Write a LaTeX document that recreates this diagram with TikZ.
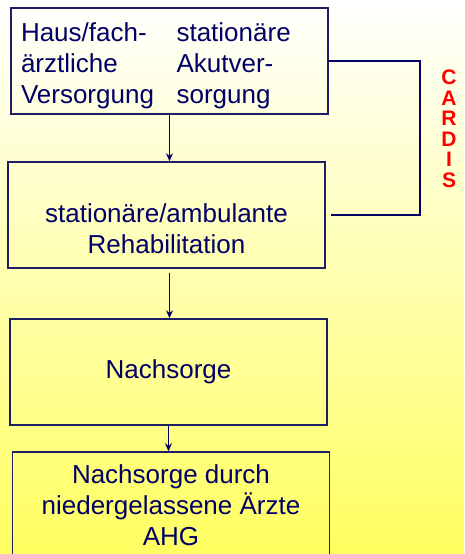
\documentclass[tikz,border=0pt]{standalone}
\usepackage{fontspec}
\setmainfont{Liberation Sans}
\usetikzlibrary{arrows.meta}
\definecolor{navy}{RGB}{0,0,102}
\definecolor{rim}{RGB}{30,30,100}
\definecolor{cardisred}{RGB}{255,0,0}
\definecolor{paleyellow}{RGB}{255,255,96}

\begin{document}
\begin{tikzpicture}[x=1pt,y=-1pt,
  box/.style={draw=rim,line width=1.5pt,minimum width=317pt,minimum height=106pt,inner sep=0pt},
  txt/.style={text=navy,font=\fontsize{26}{31}\selectfont,align=center},
  link/.style={draw=navy,line width=2pt},
  arr/.style={draw=navy,line width=1.2pt,-{Stealth[length=8pt,width=7pt]}}]
\useasboundingbox (0,0) rectangle (464,554);
\shade[top color=white,bottom color=paleyellow] (0,0) rectangle (464,554);

\draw (169.5,61) node[box,txt,text width=297pt,align=left](versorg) {\raisebox{-5pt}[\height][\depth]{\begin{tabular}{@{}l@{\hspace{22.6pt}}l@{}}Haus/fach- & stationäre\\ ärztliche & Akutver-\\ Versorgung & sorgung\end{tabular}}};
\draw (166.5,215) node[box](reha) {};
\draw (166.5,228.5) node[txt](rehatxt) {stationäre/ambulante\\Rehabilitation};
\draw (168.5,372) node[box,txt](nach) {Nachsorge};
\draw (171,505) node[box,txt](ahg) {Nachsorge durch\\niedergelassene Ärzte\\AHG};
\draw (449,129) node[text=cardisred,font=\fontsize{21}{20.5}\selectfont\bfseries,align=center](cardis) {C\\A\\R\\D\\I\\S};

\draw[link] (versorg.east) -- ++(91,0) |- ([xshift=5pt]reha.east);
\draw[arr] (versorg.south) -- (versorg.south |- reha.north);
\draw[arr] ([yshift=-4pt]reha.south -| versorg.south) -- (versorg.south |- nach.north);
\draw[arr] (nach.south) -- (nach.south |- ahg.north);
\end{tikzpicture}
\end{document}
